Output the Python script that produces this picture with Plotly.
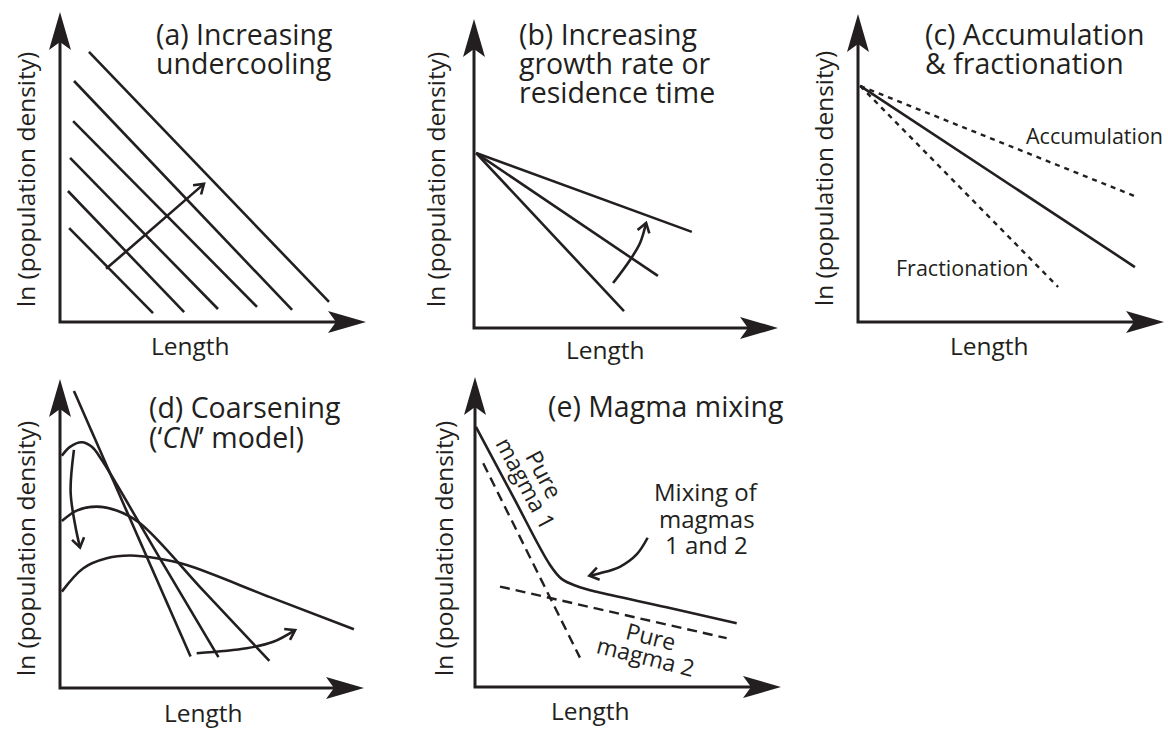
import math
import plotly.graph_objects as go

W, H = 1168, 730
INK = "#231f20"
FONT = "Open Sans"
PAD = 24  # px of room kept around each panel so arrowheads are not clipped
SPAN = 10.0  # schematic units from origin to arrow tip

# ---- panel geometry (pixels): origin and arrow tips ----
PANEL_KEYS = ["a", "b", "c", "d", "e"]
ORIGIN_X = [60, 474, 858, 60, 475]
ORIGIN_Y = [322, 328, 322, 688, 687]
TIP_X = [365, 777, 1163, 363, 780]
TIP_Y = [13, 20, 15, 380, 378]

# ---- (a) Increasing undercooling ----
a_x0 = [0.95, 0.46, 0.43, 0.33, 0.26, 0.30]
a_y0 = [8.74, 7.80, 6.50, 5.31, 4.24, 3.04]
a_x1 = [8.82, 7.61, 6.46, 5.18, 4.07, 3.05]
a_y1 = [0.65, 0.39, 0.49, 0.42, 0.32, 0.29]
a_arrow_x = [1.51, 4.72]
a_arrow_y = [1.72, 4.47]

# ---- (b) Increasing growth rate or residence time ----
b_start_x, b_start_y = 0.07, 5.68
b_end_x = [7.19, 6.07, 4.95]
b_end_y = [3.12, 1.69, 0.55]
b_arrow_x = [4.59, 5.15, 5.48, 5.68]
b_arrow_y = [1.46, 2.21, 2.76, 3.41]

# ---- (c) Accumulation & fractionation ----
c_start_x, c_start_y = 0.07, 7.69
c_solid_x, c_solid_y = 9.08, 1.79
c_accum_x, c_accum_y = 9.15, 4.07
c_fract_x, c_fract_y = 6.56, 1.14

# ---- (d) Coarsening ('CN' model) ----
d_line_x = [0.46, 4.31]
d_line_y = [9.64, 1.02]
d_top_x = [0.06, 0.33, 0.72, 1.05, 1.38, 3.30, 5.23]
d_top_y = [7.54, 7.83, 7.98, 7.83, 7.40, 4.20, 1.00]
d_mid_x = [0.06, 0.55, 1.21, 1.87, 2.64, 4.77, 6.91]
d_mid_y = [5.42, 5.76, 5.89, 5.76, 5.35, 3.12, 0.88]
d_low_x = [0.06, 0.77, 1.54, 2.31, 3.19, 4.18, 6.93, 9.70]
d_low_y = [3.13, 3.89, 4.21, 4.30, 4.21, 3.99, 2.95, 1.91]
d_arrow1_x = [0.46, 0.35, 0.50, 0.66]
d_arrow1_y = [7.73, 6.37, 5.29, 4.56]
d_arrow2_x = [4.51, 6.16, 7.04, 7.76]
d_arrow2_y = [1.13, 1.29, 1.50, 1.88]

# ---- (e) Magma mixing ----
e_mix_x = [0.03, 1.25, 2.46, 2.84, 3.33, 3.99, 6.28, 8.58]
e_mix_y = [8.42, 6.16, 3.95, 3.50, 3.27, 3.08, 2.58, 2.06]
e_pure1_x = [0.27, 3.44]
e_pure1_y = [7.24, 0.95]
e_pure2_x = [0.82, 8.25]
e_pure2_y = [3.25, 1.58]
e_arrow_x = [5.66, 5.30, 4.75, 4.10, 3.75]
e_arrow_y = [4.83, 4.29, 3.89, 3.68, 3.60]

fig = go.Figure()
shapes, annotations = [], []
scales = {}
axes_layout = {}


def ax_ids(k):
    i = PANEL_KEYS.index(k)
    n = "" if i == 0 else str(i + 1)
    return "x" + n, "y" + n


for i, k in enumerate(PANEL_KEYS):
    ox, oy, tx, ty = ORIGIN_X[i], ORIGIN_Y[i], TIP_X[i], TIP_Y[i]
    sx = (tx - ox) / SPAN
    sy = (oy - ty) / SPAN
    scales[k] = (sx, sy)
    left, right = max(0, ox - PAD), min(W, tx + PAD)
    top, bottom = max(0, ty - PAD), min(H, oy + PAD)
    n = "" if i == 0 else str(i + 1)
    axes_layout["xaxis" + n] = dict(domain=[left / W, right / W],
                                    range=[(left - ox) / sx, (right - ox) / sx],
                                    visible=False, fixedrange=True, anchor="y" + n)
    axes_layout["yaxis" + n] = dict(domain=[1 - bottom / H, 1 - top / H],
                                    range=[(oy - bottom) / sy, (oy - top) / sy],
                                    visible=False, fixedrange=True, anchor="x" + n)
    xr, yr = "x" + n, "y" + n
    notch = 29
    shapes.append(dict(type="path", xref=xr, yref=yr,
                       path=f"M0,{SPAN - notch / sy:.4f} L0,0 L{SPAN - notch / sx:.4f},0",
                       line=dict(color=INK, width=3), fillcolor="rgba(0,0,0,0)"))
    shapes.append(dict(type="path", xref=xr, yref=yr, xsizemode="pixel", ysizemode="pixel",
                       xanchor=SPAN, yanchor=0, path="M1,0 L-37,11 L-29,0 L-37,-11 Z",
                       fillcolor=INK, line=dict(width=0)))
    shapes.append(dict(type="path", xref=xr, yref=yr, xsizemode="pixel", ysizemode="pixel",
                       xanchor=0, yanchor=SPAN, path="M0,1 L11,-37 L0,-29 L-11,-37 Z",
                       fillcolor=INK, line=dict(width=0)))


def line(k, xs, ys, dash=None, spline=False, width=2.6):
    xr, yr = ax_ids(k)
    ln = dict(color=INK, width=width)
    if dash:
        ln["dash"] = dash
    if spline:
        ln["shape"] = "spline"
        ln["smoothing"] = 1.0
    fig.add_trace(go.Scatter(x=xs, y=ys, mode="lines", xaxis=xr, yaxis=yr, line=ln,
                             hoverinfo="skip", showlegend=False))


def vhead(k, xs, ys, length=11, half_angle=34, width=2.6):
    xr, yr = ax_ids(k)
    sx, sy = scales[k]
    dx = (xs[-1] - xs[-2]) * sx
    dy = (ys[-1] - ys[-2]) * sy
    m = math.hypot(dx, dy)
    ux, uy = dx / m, dy / m
    pts = []
    for s in (1, -1):
        a = math.radians(180 + s * half_angle)
        rx = ux * math.cos(a) - uy * math.sin(a)
        ry = ux * math.sin(a) + uy * math.cos(a)
        pts.append((rx * length, ry * length))
    path = f"M{pts[0][0]:.2f},{pts[0][1]:.2f} L0,0 L{pts[1][0]:.2f},{pts[1][1]:.2f}"
    shapes.append(dict(type="path", xref=xr, yref=yr, xsizemode="pixel", ysizemode="pixel",
                       xanchor=xs[-1], yanchor=ys[-1], path=path,
                       line=dict(color=INK, width=width), fillcolor="rgba(0,0,0,0)"))


def _ann(text, x, y, xref, yref, size, xanchor, angle):
    annotations.append(dict(text=text, x=x, y=y, xref=xref, yref=yref, showarrow=False,
                            xanchor=xanchor, yanchor="middle", textangle=angle,
                            align="center", borderpad=0,
                            font=dict(family=FONT, size=size, color=INK)))


def ptext(lines, px, py, size, spacing=0, xanchor="center", angle=0):
    """Multi-line text in page pixels; each line placed separately for exact spacing."""
    n = len(lines)
    th = math.radians(angle)
    for i, t in enumerate(lines):
        off = (i - (n - 1) / 2) * spacing
        dx, dy = -math.sin(th) * off, math.cos(th) * off
        _ann(t, (px + dx) / W, 1 - (py + dy) / H, "paper", "paper", size, xanchor, angle)


def dtext(k, lines, x, y, size, spacing=0, angle=0):
    """Multi-line text in a panel's schematic units."""
    xr, yr = ax_ids(k)
    sx, sy = scales[k]
    n = len(lines)
    th = math.radians(angle)
    for i, t in enumerate(lines):
        off = (i - (n - 1) / 2) * spacing
        dx, dy = -math.sin(th) * off, math.cos(th) * off
        _ann(t, x + dx / sx, y - dy / sy, xr, yr, size, "center", angle)


# (a)
for x0, y0, x1, y1 in zip(a_x0, a_y0, a_x1, a_y1):
    line("a", [x0, x1], [y0, y1])
line("a", a_arrow_x, a_arrow_y)
vhead("a", a_arrow_x, a_arrow_y)

# (b)
for xe, ye in zip(b_end_x, b_end_y):
    line("b", [b_start_x, xe], [b_start_y, ye])
line("b", b_arrow_x, b_arrow_y, spline=True)
vhead("b", b_arrow_x, b_arrow_y)

# (c)
line("c", [c_start_x, c_solid_x], [c_start_y, c_solid_y])
line("c", [c_start_x, c_accum_x], [c_start_y, c_accum_y], dash="5px,5px", width=2.4)
line("c", [c_start_x, c_fract_x], [c_start_y, c_fract_y], dash="5px,5px", width=2.4)
dtext("c", ["Accumulation"], 7.77, 6.09, 21.5)
dtext("c", ["Fractionation"], 3.44, 1.76, 21.5)

# (d)
line("d", d_line_x, d_line_y)
line("d", d_top_x, d_top_y, spline=True)
line("d", d_mid_x, d_mid_y, spline=True)
line("d", d_low_x, d_low_y, spline=True)
line("d", d_arrow1_x, d_arrow1_y, spline=True)
vhead("d", d_arrow1_x, d_arrow1_y)
line("d", d_arrow2_x, d_arrow2_y, spline=True)
vhead("d", d_arrow2_x, d_arrow2_y)

# (e)
line("e", e_mix_x, e_mix_y, spline=True)
line("e", e_pure1_x, e_pure1_y, dash="10px,6px", width=2.4)
line("e", e_pure2_x, e_pure2_y, dash="10px,6px", width=2.4)
line("e", e_arrow_x, e_arrow_y, spline=True)
vhead("e", e_arrow_x, e_arrow_y)
dtext("e", ["Pure", "magma 1"], 1.98, 6.75, 23, spacing=21, angle=62)
dtext("e", ["Pure", "magma 2"], 5.68, 1.33, 23, spacing=21, angle=14)
dtext("e", ["Mixing of", "magmas", "1 and 2"], 7.60, 5.46, 24, spacing=26.5)

# titles
TS = 28.5
ptext(["(a) Increasing", "undercooling"], 155, 48, TS, spacing=29, xanchor="left")
ptext(["(b) Increasing", "growth rate or", "residence time"], 518, 62.5, TS, spacing=29, xanchor="left")
ptext(["(c) Accumulation", "&amp; fractionation"], 924, 48.5, TS, spacing=29, xanchor="left")
ptext(["(d) Coarsening", "(\u2018<i>CN</i>\u2019 model)"], 148, 422, TS, spacing=30, xanchor="left")
ptext(["(e) Magma mixing"], 547, 406.5, TS, xanchor="left")

# axis labels
LS = 24.5
YLAB = "ln (population density)"
for px, py in [(25, 180), (435, 180), (823, 179), (25, 549), (443, 549)]:
    ptext([YLAB], px, py, LS, angle=-90)
for px, py in [(191, 346), (605, 350), (989, 346), (203, 712), (590, 710)]:
    ptext(["Length"], px, py, LS)

fig.update_layout(width=W, height=H, margin=dict(l=0, r=0, t=0, b=0),
                  paper_bgcolor="white", plot_bgcolor="rgba(0,0,0,0)",
                  showlegend=False, shapes=shapes, annotations=annotations,
                  **axes_layout)
fig.write_html("out.html")
